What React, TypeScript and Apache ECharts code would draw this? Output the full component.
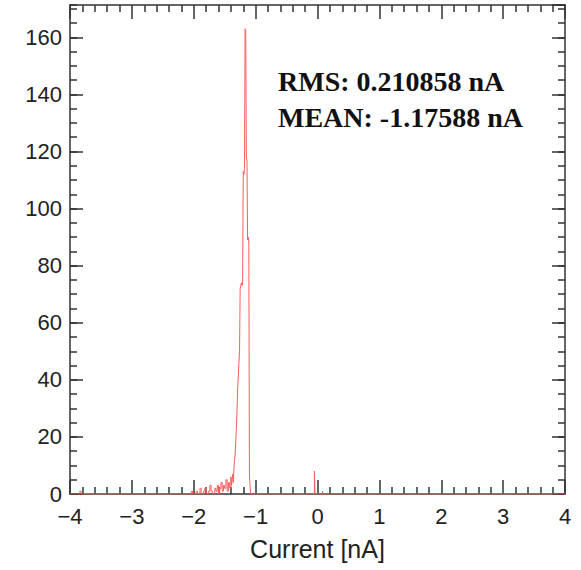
import React, { useEffect, useRef } from 'react';
import * as echarts from 'echarts';

// Histogram: bin left edges (nA) and counts (step line, each value holds until the next edge)
const binLeft = [
  -4.0, -3.84, -3.82, -2.04, -2.02, -1.96, -1.94, -1.9, -1.88, -1.84, -1.82, -1.8, -1.76, -1.74,
  -1.72, -1.7, -1.66, -1.64, -1.62, -1.6, -1.58, -1.56, -1.54, -1.52, -1.5, -1.48, -1.46, -1.44,
  -1.42, -1.4, -1.39, -1.38, -1.37, -1.36, -1.35, -1.34, -1.33, -1.32, -1.31, -1.3, -1.29, -1.28,
  -1.27, -1.26, -1.25, -1.24, -1.23, -1.22, -1.21, -1.2, -1.19, -1.18, -1.17, -1.16, -1.15, -1.14,
  -1.13, -1.12, -1.11, -1.1, -1.09, -1.08, -0.05, -0.04, 0.08, 0.09, 4.0,
];
const counts = [
  0, 1, 0, 1, 0, 1, 0, 2, 0, 1, 2, 0, 1, 3,
  1, 0, 2, 1, 3, 0, 2, 4, 1, 3, 2, 5, 1, 4,
  2, 6, 3, 5, 7, 4, 9, 12, 14, 19, 24, 30, 37, 41,
  46, 50, 72, 73, 74, 73, 74, 113, 112, 114, 163, 162, 118, 117,
  89, 90, 88, 6, 3, 0, 8, 0, 1, 0, 0,
];

const xTickValues = [-4, -3, -2, -1, 0, 1, 2, 3, 4];
const yTickValues = [0, 20, 40, 60, 80, 100, 120, 140, 160];
const statLines = ['RMS: 0.210858 nA', 'MEAN: -1.17588 nA'];
const xTitle = 'Current [nA]';

const AX = '#333';
const FONT = '"Liberation Sans", Arial, sans-serif';

export default function App() {
  const ref = useRef<HTMLDivElement>(null);
  useEffect(() => {
    const chart = echarts.init(ref.current!, null, { renderer: 'svg' });
    const lineStyle = { color: AX, width: 1.5 };
    const xBase = {
      type: 'value' as const,
      min: xTickValues[0],
      max: xTickValues[xTickValues.length - 1],
      interval: 1,
      z: 3,
      splitLine: { show: false },
      axisLine: { show: true, onZero: false, lineStyle },
      axisTick: { show: true, inside: true, length: 14, lineStyle },
      minorTick: { show: true, splitNumber: 5, length: 7, lineStyle },
    };
    const yMax = 171.3;
    const yMajor = (pos: 'left' | 'right', labels: boolean) => ({
      type: 'value' as const,
      position: pos,
      min: 0,
      max: yMax,
      interval: 20,
      z: 3,
      splitLine: { show: false },
      axisLine: { show: true, onZero: false, lineStyle },
      axisTick: { show: true, inside: true, length: 13, lineStyle },
      axisLabel: {
        show: labels,
        showMaxLabel: false,
        margin: 8,
        fontFamily: FONT,
        fontSize: 22,
        color: '#222',
        formatter: (v: number) => (yTickValues.includes(v) ? String(v) : ''),
      },
    });
    const yMinor = (pos: 'left' | 'right') => ({
      type: 'value' as const,
      position: pos,
      min: 0,
      max: yMax,
      interval: 5,
      z: 3,
      splitLine: { show: false },
      axisLine: { show: false, onZero: false },
      axisTick: { show: true, inside: true, length: 7, lineStyle },
      axisLabel: { show: false },
    });
    chart.setOption({
      animation: false,
      backgroundColor: '#fff',
      grid: { left: 70, right: 16, top: 5, bottom: 76, containLabel: false },
      xAxis: [
        {
          ...xBase,
          position: 'bottom',
          name: xTitle,
          nameLocation: 'middle',
          nameGap: 42,
          nameTextStyle: { fontFamily: FONT, fontSize: 25, color: '#222' },
          axisLabel: {
            margin: 11,
            fontFamily: FONT,
            fontSize: 22,
            color: '#222',
            formatter: (v: number) => String(v).replace('-', '\u2212'),
          },
        },
        { ...xBase, position: 'top', axisLabel: { show: false } },
      ],
      yAxis: [yMajor('left', true), yMinor('left'), yMajor('right', false), yMinor('right')],
      series: [
        {
          type: 'line',
          xAxisIndex: 0,
          yAxisIndex: 0,
          step: 'end',
          showSymbol: false,
          symbol: 'none',
          lineStyle: { color: '#ff5c5c', width: 1 },
          data: binLeft.map((x, i) => [x, counts[i]]),
        },
      ],
      graphic: statLines.map((t, i) => ({
        type: 'text',
        x: 278,
        y: 81.5 + i * 36,
        style: {
          text: t,
          font: 'bold 28px "Liberation Serif", "Times New Roman", serif',
          fill: '#111',
          verticalAlign: 'middle',
        },
      })),
    });
    return () => chart.dispose();
  }, []);
  return (
    <div
      ref={ref}
      style={{ position: 'fixed', left: 0, top: 0, width: 581, height: 570, background: '#fff' }}
    />
  );
}
